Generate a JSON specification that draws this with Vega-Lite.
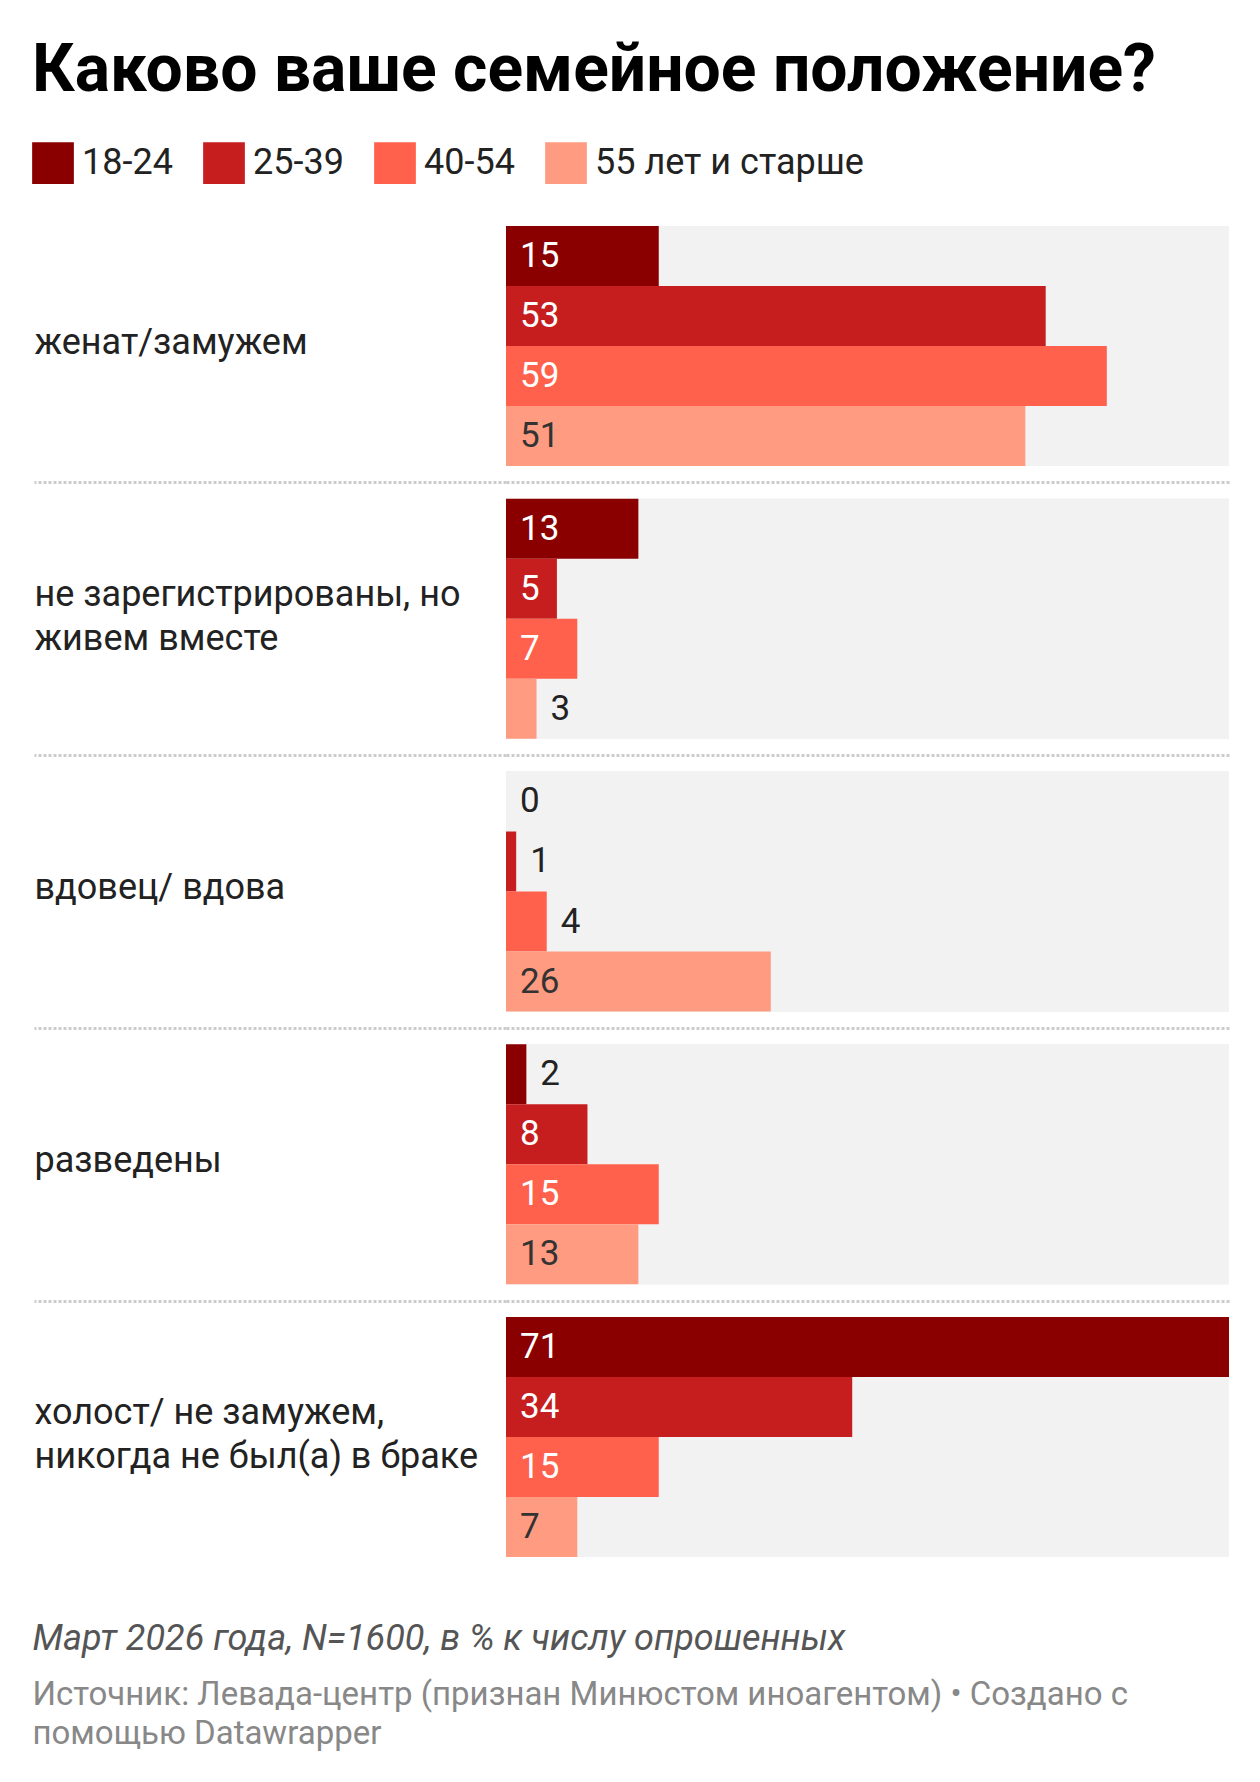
{
  "$schema": "https://vega.github.io/schema/vega-lite/v6.json",
  "background": "white",
  "padding": {"left": 32, "top": 38, "right": 20, "bottom": 10},
  "title": {"text": "Каково ваше семейное положение?", "anchor": "start", "font": "Roboto", "fontSize": 66, "fontWeight": "bold", "color": "#000000", "offset": 37},
  "config": {"font": "Roboto", "view": {"stroke": null}, "concat": {"spacing": 0}},
  "data": {"values": [
    {"category": "женат/замужем", "age": "18-24", "value": 15},
    {"category": "женат/замужем", "age": "25-39", "value": 53},
    {"category": "женат/замужем", "age": "40-54", "value": 59},
    {"category": "женат/замужем", "age": "55 лет и старше", "value": 51},
    {"category": "не зарегистрированы, но|живем вместе", "age": "18-24", "value": 13},
    {"category": "не зарегистрированы, но|живем вместе", "age": "25-39", "value": 5},
    {"category": "не зарегистрированы, но|живем вместе", "age": "40-54", "value": 7},
    {"category": "не зарегистрированы, но|живем вместе", "age": "55 лет и старше", "value": 3},
    {"category": "вдовец/ вдова", "age": "18-24", "value": 0},
    {"category": "вдовец/ вдова", "age": "25-39", "value": 1},
    {"category": "вдовец/ вдова", "age": "40-54", "value": 4},
    {"category": "вдовец/ вдова", "age": "55 лет и старше", "value": 26},
    {"category": "разведены", "age": "18-24", "value": 2},
    {"category": "разведены", "age": "25-39", "value": 8},
    {"category": "разведены", "age": "40-54", "value": 15},
    {"category": "разведены", "age": "55 лет и старше", "value": 13},
    {"category": "холост/ не замужем,|никогда не был(а) в браке", "age": "18-24", "value": 71},
    {"category": "холост/ не замужем,|никогда не был(а) в браке", "age": "25-39", "value": 34},
    {"category": "холост/ не замужем,|никогда не был(а) в браке", "age": "40-54", "value": 15},
    {"category": "холост/ не замужем,|никогда не был(а) в браке", "age": "55 лет и старше", "value": 7}
  ]},
  "vconcat": [
    {
      "width": 723,
      "height": 1331,
      "title": {
        "text": "Март 2026 года, N=1600, в % к числу опрошенных",
        "orient": "bottom", "anchor": "start", "font": "Roboto", "fontSize": 36, "fontStyle": "italic", "fontWeight": "normal", "color": "#555555",
        "subtitle": ["Источник: Левада-центр (признан Минюстом иноагентом) • Создано с", "помощью Datawrapper"],
        "subtitleFont": "Roboto", "subtitleFontSize": 33, "subtitleColor": "#888888", "subtitleLineHeight": 39, "subtitlePadding": 21,
        "offset": 65
      },
      "transform": [{"joinaggregate": [{"op": "max", "field": "value", "as": "maxv"}]}],
      "encoding": {
        "y": {
          "field": "category", "type": "nominal", "sort": null,
          "scale": {"paddingInner": 0.12, "paddingOuter": 0},
          "axis": {
            "title": null, "domain": false,
            "ticks": true, "tickSize": 472, "tickColor": "#cccccc", "tickDash": [3, 2], "tickWidth": 3,
            "tickOpacity": {"condition": {"test": "datum.value === 'женат/замужем'", "value": 0}, "value": 1},
            "grid": true, "gridColor": "#cccccc", "gridDash": [3, 2], "gridWidth": 3,
            "gridOpacity": {"condition": {"test": "datum.value === 'женат/замужем'", "value": 0}, "value": 1},
            "bandPosition": 0, "tickOffset": -16.35,
            "labelOffset": {"condition": {"test": "indexof(datum.value, '|') >= 0", "value": -7.65}, "value": 12.35},
            "labelExpr": "split(datum.label, '|')",
            "labelFont": "Roboto", "labelFontSize": 36, "labelColor": "#222222", "labelAlign": "left", "labelBaseline": "middle",
            "labelPadding": 0, "labelLimit": 600, "labelLineHeight": 44
          }
        }
      },
      "layer": [
        {
          "mark": {"type": "bar", "color": "#f2f2f2"},
          "encoding": {
            "x": {"field": "maxv", "type": "quantitative", "stack": null, "scale": {"nice": false, "zero": true}, "axis": null}
          }
        },
        {
          "mark": {"type": "bar"},
          "encoding": {
            "x": {"field": "value", "type": "quantitative", "stack": null, "axis": null},
            "yOffset": {"field": "age", "type": "nominal", "sort": ["18-24", "25-39", "40-54", "55 лет и старше"], "scale": {"paddingInner": 0, "paddingOuter": 0}},
            "color": {
              "field": "age", "type": "nominal",
              "scale": {"domain": ["18-24", "25-39", "40-54", "55 лет и старше"], "range": ["#8a0000", "#c61e1f", "#ff614d", "#ff9b80"]},
              "legend": {
                "title": null, "orient": "none", "legendX": -474, "legendY": -84, "direction": "horizontal", "symbolType": "square", "symbolSize": 1740,
                "symbolStrokeWidth": 0, "symbolOpacity": 1, "labelFont": "Roboto", "labelFontSize": 36, "labelColor": "#222222",
                "labelOffset": 8, "columnPadding": 30, "labelLimit": 400
              }
            }
          }
        },
        {
          "transform": [{"filter": "datum.value >= 5"}],
          "mark": {"type": "text", "align": "left", "baseline": "middle", "dx": 14, "fontSize": 35, "font": "Roboto"},
          "encoding": {
            "x": {"datum": 0, "type": "quantitative", "axis": null},
            "yOffset": {"field": "age", "type": "nominal", "sort": ["18-24", "25-39", "40-54", "55 лет и старше"]},
            "text": {"field": "value", "type": "quantitative"},
            "color": {"condition": {"test": "datum.age === '55 лет и старше'", "value": "#333333"}, "value": "#ffffff"}
          }
        },
        {
          "transform": [{"filter": "datum.value < 5"}],
          "mark": {"type": "text", "align": "left", "baseline": "middle", "dx": 14, "fontSize": 35, "font": "Roboto", "color": "#222222"},
          "encoding": {
            "x": {"field": "value", "type": "quantitative", "axis": null},
            "yOffset": {"field": "age", "type": "nominal", "sort": ["18-24", "25-39", "40-54", "55 лет и старше"]},
            "text": {"field": "value", "type": "quantitative"}
          }
        }
      ]
    }
  ]
}
